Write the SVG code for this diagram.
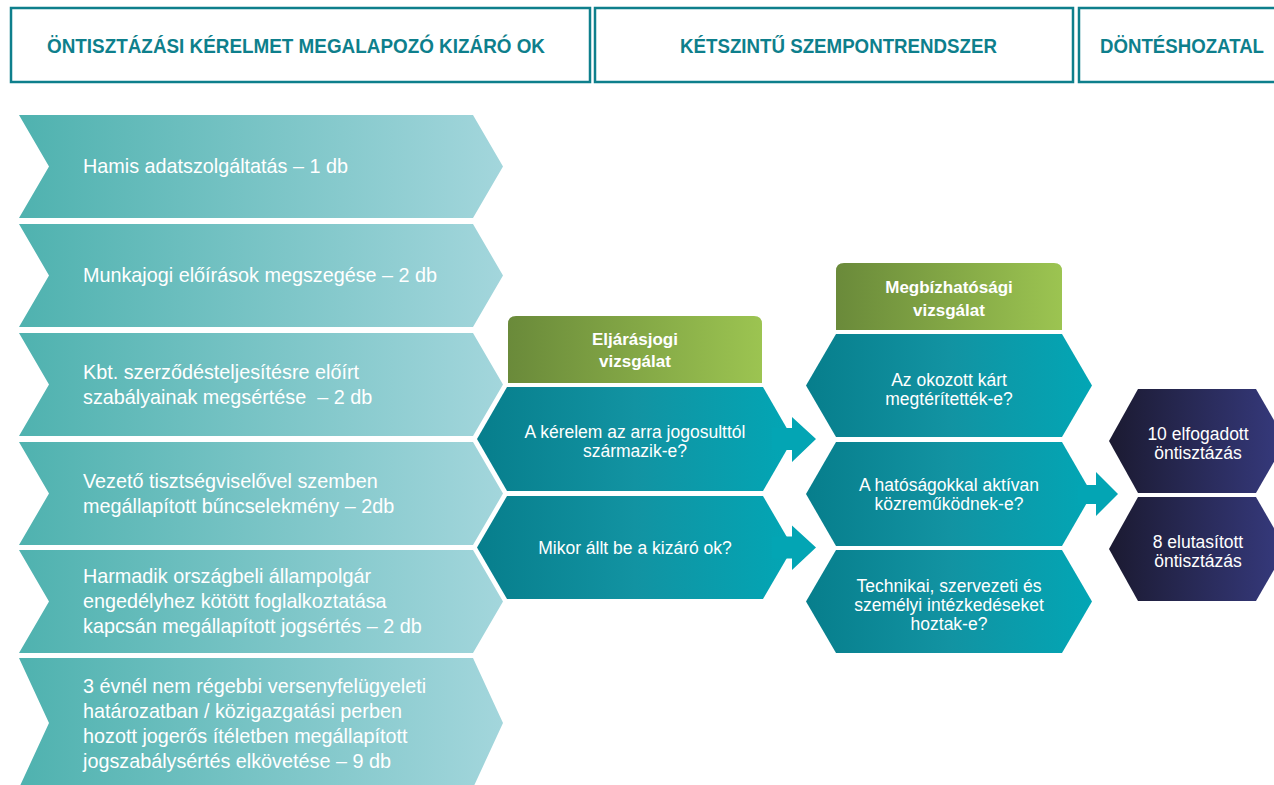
<svg xmlns="http://www.w3.org/2000/svg" width="1274" height="785" viewBox="0 0 1274 785">
<defs>
<linearGradient id="gLeft" x1="0" y1="0" x2="1" y2="0"><stop offset="0" stop-color="#4fb2af"/><stop offset="1" stop-color="#a3d6dc"/></linearGradient>
<linearGradient id="gTeal" x1="0" y1="0" x2="1" y2="0"><stop offset="0" stop-color="#077e8c"/><stop offset="0.5" stop-color="#1293a2"/><stop offset="1" stop-color="#02a6b5"/></linearGradient>
<linearGradient id="gGreen" x1="0" y1="0" x2="1" y2="0"><stop offset="0" stop-color="#6a8a3a"/><stop offset="1" stop-color="#9cc451"/></linearGradient>
<linearGradient id="gDark" x1="0" y1="0" x2="1" y2="0"><stop offset="0" stop-color="#1b1a31"/><stop offset="1" stop-color="#363a7e"/></linearGradient>
</defs>
<style>
.hbox{fill:#fff;stroke:#0e7f8c;stroke-width:2.5}
.htxt{font-family:"Liberation Sans",Arial,sans-serif;font-weight:bold;font-size:21px;fill:#0e7f8c}
.chev{fill:url(#gLeft)}
.ltxt{font-family:"Liberation Sans",Arial,sans-serif;font-size:19.8px;fill:#fff;white-space:pre}
.hex{fill:url(#gTeal)}
.dhex{fill:url(#gDark)}
.green{fill:url(#gGreen)}
.gtxt{font-family:"Liberation Sans",Arial,sans-serif;font-weight:bold;font-size:17px;fill:#fff;text-anchor:middle}
.mtxt{font-family:"Liberation Sans",Arial,sans-serif;font-size:17.5px;fill:#fff;text-anchor:middle}
.arrow{fill:#03a5b4}
</style>
<rect width="1274" height="785" fill="#fff"/>

<g id="header1"><rect class="hbox" x="11" y="8" width="579" height="74"/><text class="htxt" x="47" y="53" textLength="498" lengthAdjust="spacingAndGlyphs">ÖNTISZTÁZÁSI KÉRELMET MEGALAPOZÓ KIZÁRÓ OK</text></g>
<g id="header2"><rect class="hbox" x="595" y="8" width="478" height="74"/><text class="htxt" x="680" y="53" textLength="317" lengthAdjust="spacingAndGlyphs">KÉTSZINTŰ SZEMPONTRENDSZER</text></g>
<g id="header3"><rect class="hbox" x="1079" y="8" width="210" height="74"/><text class="htxt" x="1100" y="53" textLength="164" lengthAdjust="spacingAndGlyphs">DÖNTÉSHOZATAL</text></g>

<g id="reason1"><polygon class="chev" points="19,115 473,115 503,166.5 473,218 19,218 49,166.5"/><text class="ltxt" x="83" y="173">Hamis adatszolgáltatás – 1 db</text></g>
<g id="reason2"><polygon class="chev" points="19,224 473,224 503,275.5 473,327 19,327 49,275.5"/><text class="ltxt" x="83" y="282">Munkajogi előírások megszegése – 2 db</text></g>
<g id="reason3"><polygon class="chev" points="19,333 473,333 503,384.5 473,436 19,436 49,384.5"/><text class="ltxt" x="83" y="379">Kbt. szerződésteljesítésre előírt</text><text class="ltxt" x="83" y="404">szabályainak megsértése  – 2 db</text></g>
<g id="reason4"><polygon class="chev" points="19,442 473,442 503,493.5 473,545 19,545 49,493.5"/><text class="ltxt" x="83" y="488">Vezető tisztségviselővel szemben</text><text class="ltxt" x="83" y="513">megállapított bűncselekmény – 2db</text></g>
<g id="reason5"><polygon class="chev" points="19,550 473,550 503,601.5 473,653 19,653 49,601.5"/><text class="ltxt" x="83" y="583">Harmadik országbeli állampolgár</text><text class="ltxt" x="83" y="608">engedélyhez kötött foglalkoztatása</text><text class="ltxt" x="83" y="633">kapcsán megállapított jogsértés – 2 db</text></g>
<g id="reason6"><polygon class="chev" points="19,658 473,658 503,723 473,788 19,788 49,723"/><text class="ltxt" x="83" y="693">3 évnél nem régebbi versenyfelügyeleti</text><text class="ltxt" x="83" y="718">határozatban / közigazgatási perben</text><text class="ltxt" x="83" y="743">hozott jogerős ítéletben megállapított</text><text class="ltxt" x="83" y="768">jogszabálysértés elkövetése – 9 db</text></g>

<g id="eljarasjogi-header"><path class="green" d="M508,383 V324 Q508,316 516,316 H754 Q762,316 762,324 V383 Z"/><text class="gtxt" x="635" y="345">Eljárásjogi</text><text class="gtxt" x="635" y="367">vizsgálat</text></g>
<g id="q-jogosult"><polygon class="hex" points="507,387 763,387 793,439 763,491 507,491 477,439"/><text class="mtxt" x="635" y="438">A kérelem az arra jogosulttól</text><text class="mtxt" x="635" y="457">származik-e?</text></g>
<g id="q-mikor"><polygon class="hex" points="507,496 763,496 793,547.5 763,599 507,599 477,547.5"/><text class="mtxt" x="635" y="554">Mikor állt be a kizáró ok?</text></g>

<g id="megbizhatosagi-header"><path class="green" d="M836,330 V271 Q836,263 844,263 H1054 Q1062,263 1062,271 V330 Z"/><text class="gtxt" x="949" y="293">Megbízhatósági</text><text class="gtxt" x="949" y="316">vizsgálat</text></g>
<g id="q-kar"><polygon class="hex" points="836,334 1062,334 1092,385.5 1062,437 836,437 806,385.5"/><text class="mtxt" x="949" y="386">Az okozott kárt</text><text class="mtxt" x="949" y="405">megtérítették-e?</text></g>
<g id="q-hatosag"><polygon class="hex" points="836,442 1062,442 1092,494 1062,546 836,546 806,494"/><text class="mtxt" x="949" y="491">A hatóságokkal aktívan</text><text class="mtxt" x="949" y="510">közreműködnek-e?</text></g>
<g id="q-intezkedes"><polygon class="hex" points="836,550 1062,550 1092,601.5 1062,653 836,653 806,601.5"/><text class="mtxt" x="949" y="592">Technikai, szervezeti és</text><text class="mtxt" x="949" y="611">személyi intézkedéseket</text><text class="mtxt" x="949" y="630">hoztak-e?</text></g>

<g id="elfogadott"><polygon class="dhex" points="1138,389 1256,389 1286,441 1256,493 1138,493 1109,441"/><text class="mtxt" x="1198" y="440">10 elfogadott</text><text class="mtxt" x="1198" y="459">öntisztázás</text></g>
<g id="elutasitott"><polygon class="dhex" points="1138,497 1256,497 1286,549 1256,601 1138,601 1109,549"/><text class="mtxt" x="1198" y="548">8 elutasított</text><text class="mtxt" x="1198" y="567">öntisztázás</text></g>

<g id="connectors">
<polygon class="arrow" points="772,428 792,428 792,417 816,439 792,462 792,450 772,450"/>
<polygon class="arrow" points="772,536.5 792,536.5 792,525.5 816,547.5 792,570 792,558.5 772,558.5"/>
<polygon class="arrow" points="1078,485 1096,485 1096,472 1118,494 1096,516 1096,504 1078,504"/>
</g>
</svg>
